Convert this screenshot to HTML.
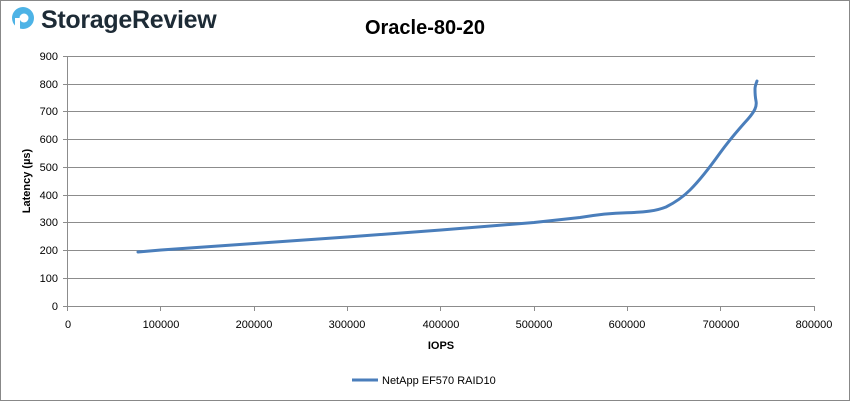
<!DOCTYPE html>
<html><head><meta charset="utf-8"><style>
body{margin:0;background:#fff}
svg{display:block}
text{font-family:"Liberation Sans",sans-serif}
</style></head><body>
<svg width="850" height="401" viewBox="0 0 850 401" xmlns="http://www.w3.org/2000/svg">
<rect x="0.5" y="0.5" width="849" height="400" fill="#fff" stroke="#888"/>
<circle cx="23" cy="18" r="11" fill="#4db3e6"/>
<circle cx="24" cy="18" r="4.5" fill="#fff"/>
<rect x="15" y="18" width="5" height="13" fill="#fff"/>
<text x="41" y="28" font-size="25" fill="#1d2b36" font-weight="bold" letter-spacing="-0.3">StorageReview</text>
<text x="425" y="34" font-size="20" font-weight="bold" text-anchor="middle" fill="#000">Oracle-80-20</text>
<g stroke="#8c8c8c" stroke-width="1">
<line x1="67" y1="56.5" x2="815" y2="56.5"/>
<line x1="67" y1="84.5" x2="815" y2="84.5"/>
<line x1="67" y1="111.5" x2="815" y2="111.5"/>
<line x1="67" y1="139.5" x2="815" y2="139.5"/>
<line x1="67" y1="167.5" x2="815" y2="167.5"/>
<line x1="67" y1="195.5" x2="815" y2="195.5"/>
<line x1="67" y1="222.5" x2="815" y2="222.5"/>
<line x1="67" y1="250.5" x2="815" y2="250.5"/>
<line x1="67" y1="278.5" x2="815" y2="278.5"/>
<line x1="63" y1="306.5" x2="815" y2="306.5"/>
<line x1="67.5" y1="56" x2="67.5" y2="306"/>
</g>
<g stroke="#8c8c8c"><line x1="63" y1="56.5" x2="67" y2="56.5"/><line x1="63" y1="84.5" x2="67" y2="84.5"/><line x1="63" y1="111.5" x2="67" y2="111.5"/><line x1="63" y1="139.5" x2="67" y2="139.5"/><line x1="63" y1="167.5" x2="67" y2="167.5"/><line x1="63" y1="195.5" x2="67" y2="195.5"/><line x1="63" y1="222.5" x2="67" y2="222.5"/><line x1="63" y1="250.5" x2="67" y2="250.5"/><line x1="63" y1="278.5" x2="67" y2="278.5"/>
<line x1="67.5" y1="306" x2="67.5" y2="311"/><line x1="160.5" y1="306" x2="160.5" y2="311"/><line x1="254.5" y1="306" x2="254.5" y2="311"/><line x1="347.5" y1="306" x2="347.5" y2="311"/><line x1="440.5" y1="306" x2="440.5" y2="311"/><line x1="534.5" y1="306" x2="534.5" y2="311"/><line x1="627.5" y1="306" x2="627.5" y2="311"/><line x1="720.5" y1="306" x2="720.5" y2="311"/><line x1="814.5" y1="306" x2="814.5" y2="311"/></g>
<g font-size="11" fill="#000" text-anchor="end">
<text x="58" y="60">900</text><text x="58" y="88">800</text><text x="58" y="115">700</text><text x="58" y="143">600</text><text x="58" y="171">500</text><text x="58" y="199">400</text><text x="58" y="226">300</text><text x="58" y="254">200</text><text x="58" y="282">100</text><text x="58" y="310">0</text>
</g>
<g font-size="11" fill="#000" text-anchor="middle">
<text x="68" y="328">0</text><text x="161" y="328">100000</text><text x="254" y="328">200000</text><text x="347" y="328">300000</text><text x="441" y="328">400000</text><text x="534" y="328">500000</text><text x="627" y="328">600000</text><text x="721" y="328">700000</text><text x="814" y="328">800000</text>
</g>
<text x="441" y="349" font-size="11" font-weight="bold" text-anchor="middle">IOPS</text>
<text transform="translate(30,181) rotate(-90)" font-size="11" font-weight="bold" text-anchor="middle">Latency (µs)</text>
<path d="M138,252 L161,250 L254,243.5 L347,237 L441,230 L534,222.5 L580,217.5 C600,214 612,213 627,212.7 C645,212.2 656,211 666,207 C676,202 683,197 690,190 C700,180 710,167 720,153 C728,142 738,130 748,119 C755,111 757,106 756,101 C755,96 755,92 755,89 C755,86 756,84 757,81" fill="none" stroke="#4a7ebb" stroke-width="3" stroke-linejoin="round" stroke-linecap="round"/>
<line x1="352" y1="380" x2="378" y2="380" stroke="#4a7ebb" stroke-width="3"/>
<text x="382" y="384" font-size="11" fill="#000">NetApp EF570 RAID10</text>
</svg>
</body></html>
